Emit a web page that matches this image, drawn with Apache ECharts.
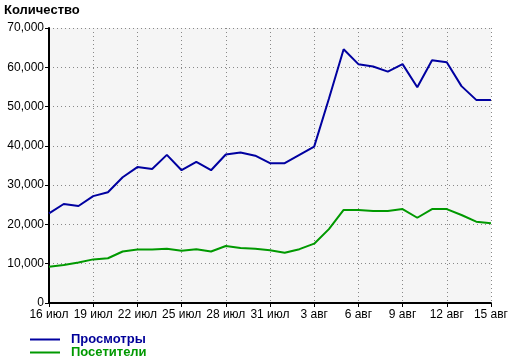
<!DOCTYPE html>
<html><head><meta charset="utf-8">
<script src="https://cdn.jsdelivr.net/npm/echarts@6/dist/echarts.min.js"></script>
<style>html,body{margin:0;padding:0;background:#fff}#c{width:511px;height:359px}</style>
</head><body><div id="c"></div>
<script>
var categories = ["16 июл","17 июл","18 июл","19 июл","20 июл","21 июл","22 июл","23 июл","24 июл","25 июл","26 июл","27 июл","28 июл","29 июл","30 июл","31 июл","1 авг","2 авг","3 авг","4 авг","5 авг","6 авг","7 авг","8 авг","9 авг","10 авг","11 авг","12 авг","13 авг","14 авг","15 авг"];
var views = [22800,25200,24700,27200,28200,32000,34600,34100,37700,33800,35900,33800,37800,38300,37500,35600,35600,37700,39800,52000,64600,60800,60200,58900,60800,54900,61800,61300,55200,51700,51700];
var visitors = [9200,9700,10300,11100,11400,13100,13600,13600,13800,13300,13700,13100,14500,14000,13800,13400,12800,13700,15100,18800,23700,23700,23400,23400,23900,21700,23900,23900,22400,20700,20300];
var seriesNames = ["Просмотры","Посетители"];
var yTitle = "Количество";

var font = "Liberation Sans";
var chart = echarts.init(document.getElementById('c'));
chart.setOption({
  animation:false,
  backgroundColor:'#fff',
  title:{text:yTitle,left:4,top:4,padding:0,textStyle:{fontFamily:font,fontSize:13,fontWeight:'bold',color:'#000'}},
  grid:{left:49,right:18,top:28,bottom:56,show:true,backgroundColor:'#f5f5f5',borderWidth:0},
  legend:{orient:'vertical',left:30,top:333,height:26,padding:0,itemWidth:30,itemHeight:2,itemGap:0,icon:'rect',
    textStyle:{fontFamily:font,fontSize:13,fontWeight:'bold',lineHeight:12,padding:[0,0,0,6]},
    data:[{name:seriesNames[0],textStyle:{color:'#000099'}},{name:seriesNames[1],textStyle:{color:'#009900'}}]},
  xAxis:{type:'category',data:categories,boundaryGap:false,
    axisLine:{lineStyle:{color:'#000',width:2}},
    axisTick:{show:true,interval:2,length:4,lineStyle:{color:'#000'}},
    axisLabel:{interval:2,color:'#000',fontFamily:font,fontSize:12,margin:6},
    splitLine:{show:true,interval:2,lineStyle:{color:'#888',type:[1,3],width:1}}},
  yAxis:{type:'value',min:0,max:70000,interval:10000,
    axisLine:{show:true,lineStyle:{color:'#000',width:2}},
    axisTick:{show:true,length:4,lineStyle:{color:'#000'}},
    axisLabel:{color:'#000',fontFamily:font,fontSize:12,margin:5,formatter:function(v){return v.toLocaleString('en-US');}},
    splitLine:{show:true,lineStyle:{color:'#888',type:[1,3],width:1}}},
  series:[
    {name:seriesNames[0],type:'line',data:views,showSymbol:false,symbol:'none',lineStyle:{color:'#0000a0',width:2},itemStyle:{color:'#0000a0'}},
    {name:seriesNames[1],type:'line',data:visitors,showSymbol:false,symbol:'none',lineStyle:{color:'#009900',width:2},itemStyle:{color:'#009900'}}
  ]
});
</script></body></html>
